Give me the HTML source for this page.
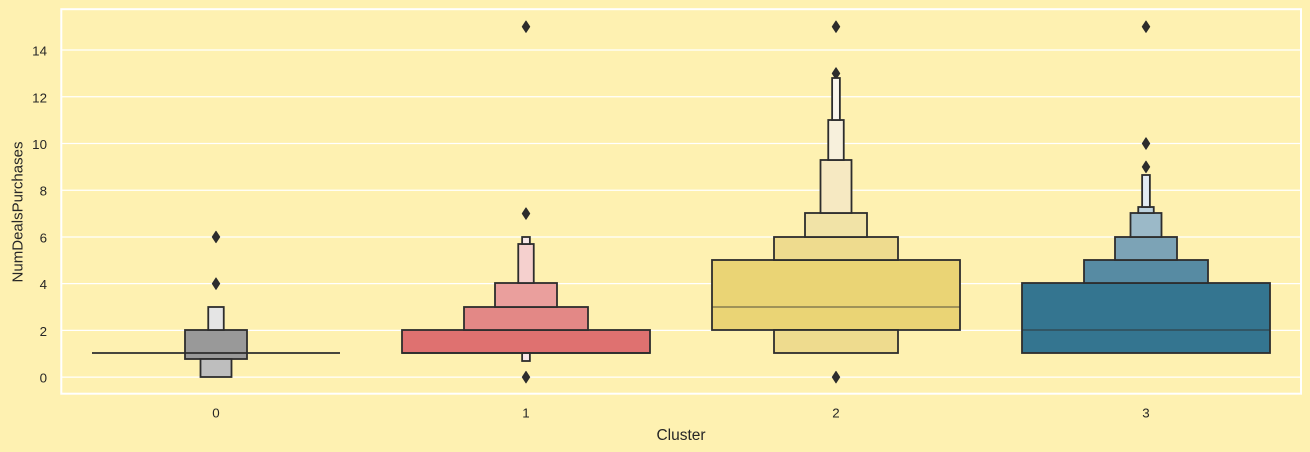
<!DOCTYPE html>
<html lang="en">
<head>
<meta charset="utf-8">
<title>NumDealsPurchases by Cluster</title>
<style>
html,body{margin:0;padding:0;background:#fef1b1;}
body{width:1310px;height:452px;overflow:hidden;}
svg{display:block;}
text{font-family:"Liberation Sans",Arial,sans-serif;fill:#262626;}
</style>
</head>
<body>
<svg id="chart" xmlns="http://www.w3.org/2000/svg" width="1310" height="452" viewBox="0 0 1310 452"></svg>
<script>
const categories = ['0', '1', '2', '3'];
const yTicks = [0, 2, 4, 6, 8, 10, 12, 14];
const xLabel = 'Cluster';
const yLabel = 'NumDealsPurchases';

const cluster0Levels = [2, 3, 4];
const cluster0Lows = [0.75, 0, 2];
const cluster0Highs = [2, 0.75, 3];
const cluster1Levels = [0, 1, 2, 4, 5, 5];
const cluster1Lows = [1, 2, 3, 4, 5.67, 0.67];
const cluster1Highs = [2, 3, 4, 5.67, 6, 1];
const cluster2Levels = [0, 1, 1, 2, 3, 4, 5];
const cluster2Lows = [2, 1, 5, 6, 7, 9.3, 11];
const cluster2Highs = [5, 2, 6, 7, 9.3, 11, 12.8];
const cluster3Levels = [0, 1, 2, 3, 4, 5];
const cluster3Lows = [1, 4, 5, 6, 7, 7.25];
const cluster3Highs = [4, 5, 6, 7, 7.25, 8.65];

const medians = [1, 1, 3, 2];
const cluster0Fliers = [4, 6];
const cluster1Fliers = [0, 7, 15];
const cluster2Fliers = [0, 13, 15];
const cluster3Fliers = [9, 10, 15];

const clusterLevels = [cluster0Levels, cluster1Levels, cluster2Levels, cluster3Levels];
const clusterLows = [cluster0Lows, cluster1Lows, cluster2Lows, cluster3Lows];
const clusterHighs = [cluster0Highs, cluster1Highs, cluster2Highs, cluster3Highs];
const clusterFliers = [cluster0Fliers, cluster1Fliers, cluster2Fliers, cluster3Fliers];

/* styling, indexed by cluster then letter-value level */
const levelColors = [
  ['#8a8a8a', '#8f8f8f', '#999999', '#bebebe', '#e5e5e5', '#f2f2f2'],
  ['#df7170', '#e38886', '#ea9f9d', '#efb8b6', '#f5d0ce', '#f8e8ea'],
  ['#ead475', '#eedb8e', '#f1e3a7', '#f6e9c2', '#f7f0dc', '#faf6ec'],
  ['#347590', '#578ba3', '#7ca3b6', '#9bb9c8', '#bdd2de', '#e3ebf2']
];
const medianOpacity = [1, 1, 0.45, 0.5];

const INK = '#2d2d2d';
const plot = { left: 61.3, right: 1301, top: 9.2, bottom: 393.7 };
const xScale = v => 216 + v * 310;
const yScale = v => 377.1 - v * 23.36;
const ySnap = v => Math.round(yScale(v) - 0.3);
const boxWidth = level => 248 / Math.pow(2, level);

const svg = document.getElementById('chart');
function make(tag, attrs, parent) {
  const el = document.createElementNS('http://www.w3.org/2000/svg', tag);
  Object.keys(attrs).forEach(k => el.setAttribute(k, attrs[k]));
  (parent || svg).appendChild(el);
  return el;
}

/* y gridlines */
yTicks.forEach(t => {
  const line = make('line', { x1: plot.left, x2: plot.right, y1: yScale(t), y2: yScale(t), stroke: '#ffffff', 'stroke-width': 1.25 });
  
  
});

/* axes frame */
const frame = make('rect', { x: plot.left, y: plot.top, width: plot.right - plot.left, height: plot.bottom - plot.top, fill: 'none', stroke: '#ffffff', 'stroke-width': 2 });



/* boxes */
categories.forEach((cat, c) => {
  const group = make('g', {});
  
  
  const cx = xScale(c);

  clusterFliers[c].forEach(v => {
    const fy = yScale(v);
    const d = make('polygon', {
      points: [[cx, fy - 5.7], [cx + 3.7, fy], [cx, fy + 5.7], [cx - 3.7, fy]].map(p => p.join(',')).join(' '),
      fill: INK, stroke: INK, 'stroke-width': 1, 'stroke-linejoin': 'round'
    }, group);
    
    
  });

  clusterLevels[c].forEach((level, i) => {
    const w = boxWidth(level);
    const top = ySnap(clusterHighs[c][i]);
    const bottom = ySnap(clusterLows[c][i]);
    const box = make('rect', {
      x: cx - w / 2, y: top, width: w, height: bottom - top,
      fill: levelColors[c][level], stroke: INK, 'stroke-width': 1.8
    }, group);
    
    
  });

  const mw = boxWidth(0);
  const med = make('line', {
    x1: cx - mw / 2, x2: cx + mw / 2, y1: ySnap(medians[c]), y2: ySnap(medians[c]),
    stroke: INK, 'stroke-width': 1.8, 'stroke-opacity': medianOpacity[c]
  }, group);
  
  

  const tick = make('text', { x: cx, y: 417.5, 'font-size': 13.33, 'text-anchor': 'middle' });
  tick.textContent = cat;
  
  
});

/* y tick labels */
yTicks.forEach(t => {
  const label = make('text', { x: 47, y: yScale(t) + 5.5, 'font-size': 13.33, 'text-anchor': 'end' });
  label.textContent = String(t);
  
  
});

/* axis titles */
const xt = make('text', { x: 681, y: 440, 'font-size': 15.5, 'text-anchor': 'middle' });
xt.textContent = xLabel;



const yt = make('text', { x: 0, y: 0, 'font-size': 15, 'text-anchor': 'middle', transform: 'translate(22.5 212) rotate(-90)' });
yt.textContent = yLabel;


</script>
</body>
</html>
